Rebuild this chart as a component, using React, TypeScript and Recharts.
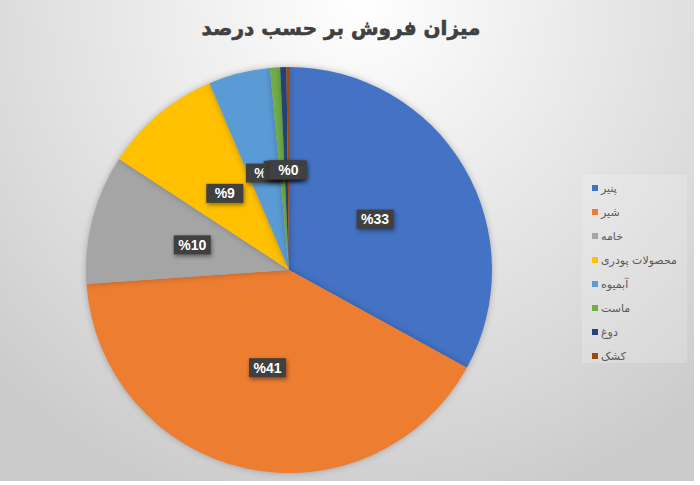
import React from 'react';
import { PieChart, Pie, Cell, Legend } from 'recharts';

const categories = ['پنیر', 'شیر', 'خامه', 'محصولات پودری', 'آبمیوه', 'ماست', 'دوغ', 'کشک'];
const values = [33, 40.9, 10.3, 9.4, 4.9, 0.8, 0.5, 0.2];
const colors = ['#4472C4', '#ED7D31', '#A5A5A5', '#FFC000', '#5B9BD5', '#70AD47', '#264478', '#9E480E'];
const title = 'میزان فروش بر حسب درصد';

const data = categories.map((name, i) => ({ name, value: values[i] }));

const RAD = Math.PI / 180;

const renderLabel = (props: any) => {
  const { cx, cy, midAngle, percent } = props;
  const r = 100;
  const x = cx + r * Math.cos(-midAngle * RAD);
  const y = cy + r * Math.sin(-midAngle * RAD);
  const txt = `%${Math.round(percent * 100)}`;
  const w = 37;
  const h = 19;
  return (
    <g>
      <rect
        x={x - w / 2}
        y={y - h / 2}
        width={w}
        height={h}
        fill="#404040"
        style={{ filter: 'drop-shadow(1px 2px 2px rgba(0,0,0,0.45))' }}
      />
      <text
        x={x}
        y={y}
        fill="#ffffff"
        textAnchor="middle"
        dominantBaseline="central"
        style={{ fontFamily: '"Liberation Sans", Arial, sans-serif', fontWeight: 700, fontSize: 14, direction: 'ltr' }}
      >
        {txt}
      </text>
    </g>
  );
};

const renderLegend = () => (
  <div
    style={{
      width: 105,
      height: 188,
      background: 'rgba(255,255,255,0.18)',
      boxSizing: 'border-box',
      paddingTop: 1,
      paddingLeft: 10,
    }}
  >
    {categories.map((c, i) => (
      <div key={c} style={{ display: 'flex', alignItems: 'center', height: 24 }}>
        <span style={{ width: 6, height: 6, background: colors[i], display: 'inline-block', marginRight: 3 }} />
        <span style={{ fontFamily: '"DejaVu Sans", sans-serif', fontSize: 11, color: '#595959', whiteSpace: 'nowrap' }}>{c}</span>
      </div>
    ))}
  </div>
);

export default function App() {
  return (
    <div
      style={{
        position: 'fixed',
        left: 0,
        top: 0,
        width: 700,
        height: 485,
        background: '#ffffff',
      }}
    >
      <div
        style={{
          position: 'absolute',
          left: 0,
          top: 0,
          width: 694,
          height: 481,
          background: 'radial-gradient(ellipse 75% 110% at 52% 0%, #ffffff 0%, #f0f0f0 30%, #d9d9d9 75%, #cbcbcb 100%)',
        }}
      >
        <div
          style={{
            position: 'absolute',
            left: 0,
            top: 16,
            width: 682,
            textAlign: 'center',
            fontFamily: '"DejaVu Sans", sans-serif',
            fontWeight: 700,
            fontSize: 20,
            color: '#404040',
            direction: 'rtl',
            WebkitTextStroke: '0.6px #404040',
          }}
        >
          {title}
        </div>
        <style>{`.recharts-pie-sector path { filter: drop-shadow(0 0 3px rgba(0,0,0,0.25)); }`}</style>
        <PieChart
          width={694}
          height={481}
          margin={{ top: 0, right: 0, bottom: 0, left: 0 }}
          style={{ position: 'absolute', left: 0, top: 0 }}
        >
          <Pie
            data={data}
            dataKey="value"
            nameKey="name"
            cx={289}
            cy={270}
            outerRadius={203}
            startAngle={90}
            endAngle={-270}
            stroke="none"
            label={renderLabel}
            labelLine={false}
            isAnimationActive={false}
          >
            {data.map((d, i) => (
              <Cell key={d.name} fill={colors[i]} />
            ))}
          </Pie>
          <Legend
            content={renderLegend}
            wrapperStyle={{ left: 582, top: 175, width: 105, height: 188 }}
          />
        </PieChart>
      </div>
    </div>
  );
}
